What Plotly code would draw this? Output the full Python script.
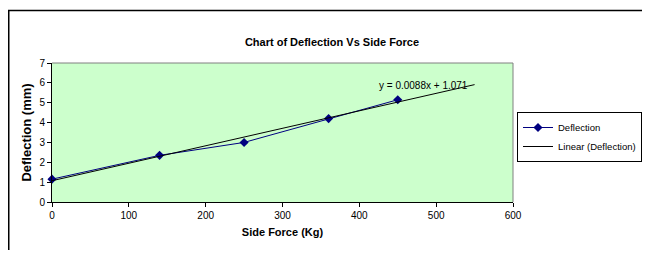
import plotly.graph_objects as go

# Data
side_force = [0, 140, 250, 360, 450]
deflection = [1.15, 2.35, 3.0, 4.2, 5.15]
trend_x = [0, 550]
trend_y = [1.071, 5.911]
trend_label = "y = 0.0088x + 1.071"
x_ticks = [0, 100, 200, 300, 400, 500, 600]
y_ticks = [0, 1, 2, 3, 4, 5, 6, 7]

FONT = "Liberation Sans, Arial, sans-serif"

# The page body has an 8px margin; keep the figure from overflowing the window.
OFF = 8
FW, FH = 650 - OFF, 258 - 2 * OFF
# plot area in window pixels: left 52, right 513, top 63, bottom 202
L, T, W, H = 52 - OFF, 63 - OFF, 461, 139

def px(x): return (x - OFF - L) / W          # window x -> paper x
def py(y): return (T + H - (y - OFF)) / H    # window y -> paper y
def cx(x): return (x - OFF) / FW             # window x -> container x
def cy(y): return 1 - (y - OFF) / FH         # window y -> container y

fig = go.Figure()
fig.add_trace(go.Scatter(
    x=side_force, y=deflection, mode="lines+markers", name="Deflection",
    line=dict(color="#000080", width=1),
    marker=dict(symbol="diamond", size=7, color="#000080"),
    cliponaxis=False,
))
fig.add_trace(go.Scatter(
    x=trend_x, y=trend_y, mode="lines", name="Linear (Deflection)",
    line=dict(color="#000000", width=1),
))

fig.add_annotation(
    x=483, y=5.89, xref="x", yref="y", text=trend_label, showarrow=False,
    font=dict(family=FONT, size=10, color="black"),
)

# Outer chart border (runs off the window to the right and bottom)
fig.add_shape(
    type="path", xref="paper", yref="paper",
    path=f"M {px(8.75)} {py(400)} L {px(8.75)} {py(10.5)} L {px(800)} {py(10.5)}",
    line=dict(color="black", width=1.5),
)

fig.update_layout(
    width=FW, height=FH,
    margin=dict(l=L, r=FW - L - W, t=T, b=FH - T - H, autoexpand=False),
    paper_bgcolor="white",
    plot_bgcolor="#CCFFCC",
    title=dict(text="<b>Chart of Deflection Vs Side Force</b>", x=cx(332), xanchor="center",
               y=cy(42), yanchor="middle",
               font=dict(family=FONT, size=11, color="black")),
    font=dict(family=FONT, size=10, color="black"),
    showlegend=True,
    legend=dict(
        xref="container", yref="container",
        x=cx(517), y=cy(112), xanchor="left", yanchor="top",
        bordercolor="black", borderwidth=1, bgcolor="white",
        font=dict(family=FONT, size=9.5, color="black"),
        tracegroupgap=0, itemwidth=30,
    ),
    xaxis=dict(
        range=[0, 600], tickvals=x_ticks, showgrid=False, zeroline=False,
        showline=True, linecolor="black", linewidth=1, mirror=False,
        ticks="outside", ticklen=4, tickcolor="black",
        title=dict(text="<b>Side Force (Kg)</b>", font=dict(family=FONT, size=11), standoff=8),
    ),
    yaxis=dict(
        range=[0, 7], tickvals=y_ticks, showgrid=False, zeroline=False,
        showline=True, linecolor="black", linewidth=1,
        ticks="outside", ticklen=4, tickcolor="black",
        title=dict(text="<b>Deflection (mm)</b>", font=dict(family=FONT, size=13), standoff=4),
    ),
)

# Gray plot-area border on top and right
fig.add_shape(type="path", xref="paper", yref="paper",
              path="M 0 1 L 1 1 L 1 0", line=dict(color="#808080", width=1))

fig.write_html("out.html")
